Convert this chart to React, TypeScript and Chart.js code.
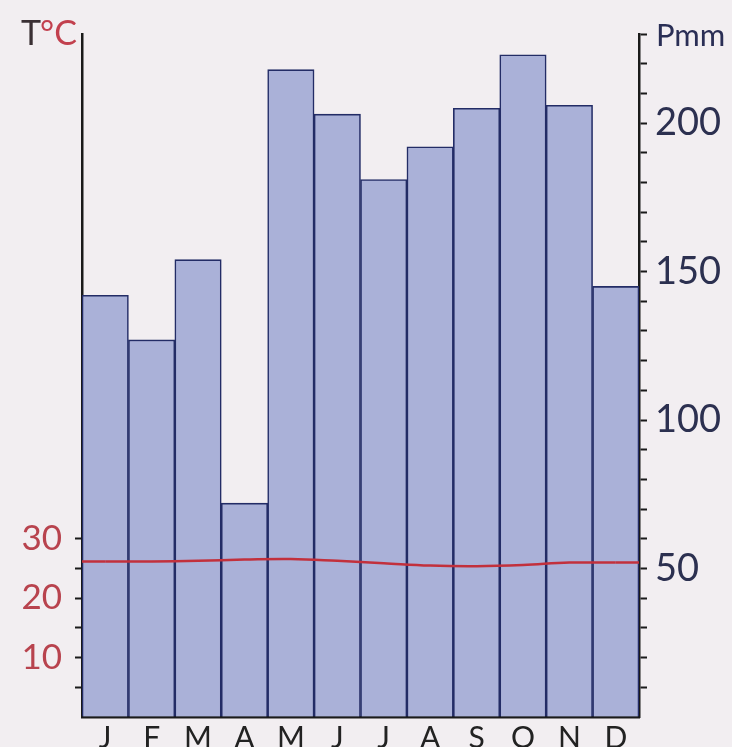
import { useEffect, useRef } from "react";
import { Chart, registerables } from "chart.js";

Chart.register(...registerables);

const months = ["J", "F", "M", "A", "M", "J", "J", "A", "S", "O", "N", "D"];
const precipitation = [142, 127, 154, 72, 218, 203, 181, 192, 205, 223, 206, 145];
const temperature = [26.2, 26.2, 26.3, 26.5, 26.6, 26.3, 25.9, 25.5, 25.4, 25.6, 26.0, 26.0];
const tempTickLabels = [10, 20, 30];
const tempTickMarks = [5, 10, 15, 20, 25, 30];
const precipTickLabels = [50, 100, 150, 200];
const precipMax = 230;

const FONT = "Lato, 'Open Sans', sans-serif";
const W = 732;
const H = 760;
const AREA_LEFT = 82;
const AREA_RIGHT = 639;
const AREA_TOP = 29;
const AREA_BOTTOM = 717;

const extendLine = {
  id: "extendLine",
  afterDatasetsDraw(chart: any) {
    const meta = chart.getDatasetMeta(1);
    if (!meta || !meta.data.length) return;
    const first = meta.data[0];
    const last = meta.data[meta.data.length - 1];
    const { ctx, chartArea } = chart;
    ctx.save();
    ctx.strokeStyle = "#c2303c";
    ctx.lineWidth = 2.5;
    ctx.beginPath();
    ctx.moveTo(chartArea.left, first.y);
    ctx.lineTo(first.x, first.y);
    ctx.moveTo(last.x, last.y);
    ctx.lineTo(chartArea.right, last.y);
    ctx.stroke();
    ctx.restore();
  },
};

const titles = {
  id: "titles",
  afterDraw(chart: any) {
    const ctx = chart.ctx;
    ctx.save();
    ctx.textBaseline = "alphabetic";
    ctx.textAlign = "left";
    ctx.font = `34px ${FONT}`;
    ctx.fillStyle = "#3a3034";
    ctx.fillText("T", 21, 45);
    const tw = ctx.measureText("T").width;
    ctx.fillStyle = "#c2404e";
    ctx.fillText("°C", 21 + tw - 1, 45);
    ctx.font = `31px ${FONT}`;
    ctx.fillStyle = "#2a2e55";
    ctx.fillText("Pmm", 656, 46);
    ctx.restore();
  },
};

export default function App() {
  const ref = useRef<HTMLCanvasElement | null>(null);

  useEffect(() => {
    document.body.style.margin = "0";
    document.body.style.background = "#f2eef1";
    if (!ref.current) return;
    const chart = new Chart(ref.current, {
      type: "bar",
      data: {
        labels: months,
        datasets: [
          {
            type: "bar",
            data: precipitation,
            yAxisID: "yP",
            backgroundColor: "#aab1d8",
            borderColor: "#232c66",
            borderWidth: 1.6,
            borderSkipped: "bottom",
            barPercentage: 1,
            categoryPercentage: 1,
            order: 1,
          },
          {
            type: "line",
            data: temperature,
            yAxisID: "yT",
            borderColor: "#c2303c",
            borderWidth: 2.5,
            pointRadius: 0,
            tension: 0.4,
            fill: false,
            order: 0,
          } as any,
        ],
      },
      options: {
        responsive: false,
        animation: false,
        layout: { padding: { top: AREA_TOP, left: 0, right: 0, bottom: 0 } },
        plugins: { legend: { display: false }, tooltip: { enabled: false } },
        scales: {
          x: {
            type: "category",
            offset: true,
            grid: { display: true, drawOnChartArea: false, drawTicks: false },
            border: { display: true, color: "#1a1a1a", width: 2.5 },
            ticks: { color: "#222", font: { family: FONT, size: 30 }, padding: 3, maxRotation: 0 },
            afterFit(scale: any) {
              scale.height = H - AREA_BOTTOM;
            },
          },
          yT: {
            type: "linear",
            position: "left",
            min: 0,
            max: precipMax / 2,
            grid: {
              drawOnChartArea: false,
              drawTicks: true,
              tickLength: 7,
              tickWidth: 2,
              tickColor: (c: any) => (tempTickMarks.includes(c.tick?.value) ? "#1a1a1a" : "rgba(0,0,0,0)"),
            },
            border: { display: true, color: "#1a1a1a", width: 2.5 },
            ticks: {
              stepSize: 5,
              autoSkip: false,
              maxTicksLimit: 100,
              color: "#b8434e",
              font: { family: FONT, size: 35 },
              padding: 13,
              callback: (v: any) => (tempTickLabels.includes(v) ? String(v) : ""),
            },
            afterFit(scale: any) {
              scale.width = AREA_LEFT;
            },
          },
          yP: {
            type: "linear",
            position: "right",
            min: 0,
            max: precipMax,
            grid: {
              drawOnChartArea: false,
              drawTicks: true,
              tickLength: 8,
              tickWidth: 2,
              tickColor: (c: any) => (c.tick?.value > 0 ? "#1a1a1a" : "rgba(0,0,0,0)"),
            },
            border: { display: true, color: "#1a1a1a", width: 2.5 },
            ticks: {
              stepSize: 10,
              autoSkip: false,
              maxTicksLimit: 100,
              color: "#2c3050",
              font: { family: FONT, size: 38 },
              padding: 8,
              callback: (v: any) => (precipTickLabels.includes(v) ? String(v) : ""),
            },
            afterFit(scale: any) {
              scale.width = W - AREA_RIGHT;
            },
          },
        },
      },
      plugins: [extendLine, titles],
    });
    return () => chart.destroy();
  }, []);

  return (
    <div style={{ width: W, height: 747, overflow: "hidden", background: "#f2eef1" }}>
      <canvas ref={ref} width={W} height={H} style={{ display: "block" }} />
    </div>
  );
}
